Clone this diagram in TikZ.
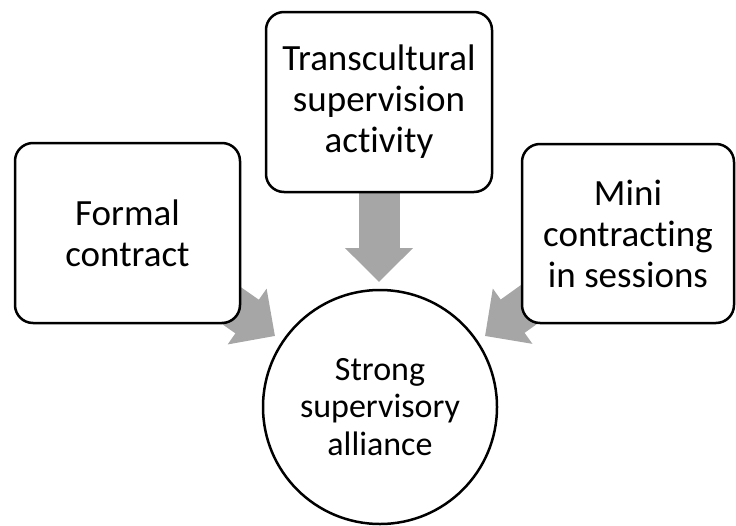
\documentclass[tikz,border=0pt]{standalone}
\usepackage{fontspec}
\setmainfont{Carlito}[Ligatures=NoCommon]
\usetikzlibrary{arrows.meta,backgrounds}
\definecolor{arrowgray}{RGB}{166,166,166}
\begin{document}
\begin{tikzpicture}[x=1pt,y=-1pt,
  box/.style={draw, line width=2.5pt, rounded corners=18pt, fill=white, align=center, inner sep=0pt, font=\fontsize{37}{41}\selectfont},
  circnode/.style={circle, draw, line width=2.5pt, fill=white, align=center, inner sep=0pt, minimum size=234pt, font=\fontsize{34}{37.5}\selectfont},
  blockarrow/.style={draw=arrowgray, line width=41pt, -{Triangle[width=66pt,length=34pt]}}]
\useasboundingbox (0,0) rectangle (736,525);
\node[box, minimum width=226pt, minimum height=180pt] (top) at (379,102) {Transcultural\\supervision\\activity};
\node[box, minimum width=225pt, minimum height=180pt] (left) at (127.5,233) {Formal\\contract};
\node[box, minimum width=212pt, minimum height=179pt] (right) at (628,233.5) {Mini\\contracting\\in sessions};
\node[circnode] (al) at (380,407) {Strong\\supervisory\\alliance};
\coordinate (ttip) at (379,282);
\coordinate (ltip) at (275,336);
\coordinate (rtip) at (485,336);
\begin{scope}[on background layer]
\draw[blockarrow] (top.south) -- (ttip);
\draw[blockarrow] (left.center) -- (ltip);
\draw[blockarrow] (right.center) -- (rtip);
\end{scope}
\end{tikzpicture}
\end{document}
